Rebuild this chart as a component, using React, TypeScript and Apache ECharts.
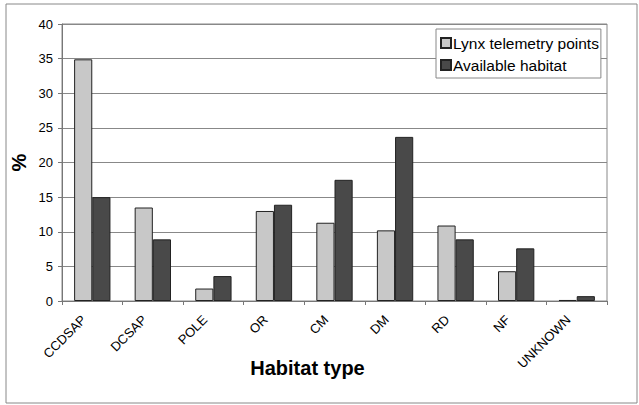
import React, { useEffect, useRef } from "react";
import * as echarts from "echarts";

const categories = ["CCDSAP", "DCSAP", "POLE", "OR", "CM", "DM", "RD", "NF", "UNKNOWN"];
const lynxPoints = [34.9, 13.5, 1.8, 13.0, 11.3, 10.2, 10.9, 4.3, 0.15];
const availableHabitat = [15.0, 8.9, 3.6, 13.9, 17.5, 23.7, 8.9, 7.6, 0.7];
const seriesNames = ["Lynx telemetry points", "Available habitat"];

export default function App() {
  const ref = useRef<HTMLDivElement>(null);
  useEffect(() => {
    document.body.style.margin = "0";
    const chart = echarts.init(ref.current!, null, { renderer: "svg" });
    const font = "Liberation Sans, Arial, sans-serif";
    chart.setOption({
      animation: false,
      backgroundColor: "#fff",
      textStyle: { fontFamily: font },
      graphic: [
        {
          type: "rect",
          shape: { x: 6, y: 4, width: 631, height: 399 },
          style: { fill: "none", stroke: "#888", lineWidth: 1 },
          z: -1,
        },
      ],
      grid: {
        left: 62,
        right: 32,
        top: 24,
        bottom: 104,
        show: true,
        borderColor: "#888",
        borderWidth: 1,
        containLabel: false,
        outerBoundsMode: "none",
      },
      legend: {
        data: seriesNames,
        orient: "vertical",
        left: 436,
        top: 29,
        width: 163,
        backgroundColor: "#fff",
        borderColor: "#888",
        borderWidth: 1,
        padding: [6, 2, 5, 4],
        itemWidth: 10,
        itemHeight: 10,
        itemGap: 6,
        icon: "rect",
        textStyle: { fontSize: 15.5, color: "#000", fontFamily: font, padding: [0, 0, 0, -3] },
      },
      xAxis: {
        type: "category",
        data: categories,
        name: "Habitat type",
        nameLocation: "middle",
        nameGap: 57,
        nameMoveOverlap: false,
        nameTextStyle: {
          fontSize: 20,
          fontWeight: "bold",
          color: "#000",
          fontFamily: font,
          padding: [0, 54, 0, 0],
        },
        axisLine: { lineStyle: { color: "#777", width: 1 } },
        axisTick: { show: true, length: 4, lineStyle: { color: "#777" } },
        axisLabel: {
          rotate: 45,
          fontSize: 13,
          color: "#000",
          margin: 8,
          interval: 0,
          fontFamily: font,
          padding: [0, 12, 0, 0],
        },
      },
      yAxis: {
        type: "value",
        min: 0,
        max: 40,
        interval: 5,
        name: "%",
        nameLocation: "middle",
        nameGap: 33,
        nameRotate: 90,
        nameMoveOverlap: false,
        nameTextStyle: { fontSize: 20, fontWeight: "bold", color: "#000", fontFamily: font },
        axisLine: { show: true, lineStyle: { color: "#777", width: 1 } },
        axisTick: { show: true, length: 4, lineStyle: { color: "#777" } },
        axisLabel: { fontSize: 13, color: "#000", margin: 9, fontFamily: font },
        splitLine: { lineStyle: { color: "#888", width: 1 } },
      },
      series: [
        {
          name: seriesNames[0],
          type: "bar",
          data: lynxPoints,
          barGap: "0%",
          barCategoryGap: "40%",
          itemStyle: { color: "#c8c8c8", borderColor: "#222", borderWidth: 1 },
        },
        {
          name: seriesNames[1],
          type: "bar",
          data: availableHabitat,
          itemStyle: { color: "#494949", borderColor: "#222", borderWidth: 1 },
        },
      ],
    });
    return () => chart.dispose();
  }, []);
  return <div ref={ref} style={{ width: 639, height: 405 }} />;
}
